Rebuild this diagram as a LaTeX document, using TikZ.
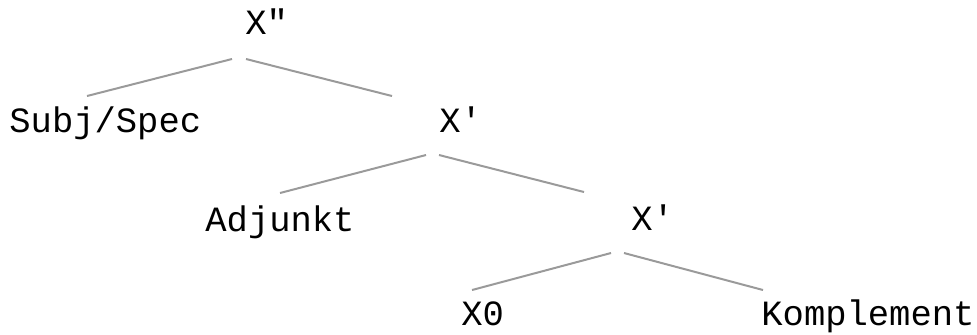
\documentclass[tikz,border=0pt]{standalone}
\usepackage{fontspec}
\setmonofont{Liberation Mono}
\definecolor{branchgray}{HTML}{9A9A9A}

\begin{document}
\begin{tikzpicture}[x=0.5pt,y=-0.5pt,
	every node/.style={font=\ttfamily\fontsize{17.75}{20}\selectfont,inner sep=0pt,anchor=base west},
	branch/.style={draw=branchgray,line width=1pt}]
		\useasboundingbox (0,0) rectangle (977,334);
		% labels
		\node (xpp) at (245,34) {X"};
		\node (subj) at (9,132) {Subj/Spec};
		\node (xp1) at (439,132) {X'};
		\node (adj) at (205,231) {Adjunkt};
		\node (xp2) at (631,230) {X'};
		\node (xnull) at (461,325) {X0};
		\node (kompl) at (761,325) {Komplement};
		% branch ends
		\coordinate (xpp-l) at (232,59);
		\coordinate (xpp-r) at (246,59);
		\coordinate (subj-t) at (87,96);
		\coordinate (xp1-t) at (392,96);
		\coordinate (xp1-l) at (426,155);
		\coordinate (xp1-r) at (439,155);
		\coordinate (adj-t) at (280,193);
		\coordinate (xp2-t) at (584,192);
		\coordinate (xp2-l) at (611,253);
		\coordinate (xp2-r) at (624,253);
		\coordinate (xnull-t) at (472,290);
		\coordinate (kompl-t) at (763,290);
		\draw[branch] (xpp-l) -- (subj-t);
		\draw[branch] (xpp-r) -- (xp1-t);
		\draw[branch] (xp1-l) -- (adj-t);
		\draw[branch] (xp1-r) -- (xp2-t);
		\draw[branch] (xp2-l) -- (xnull-t);
		\draw[branch] (xp2-r) -- (kompl-t);
	\end{tikzpicture}
\end{document}
